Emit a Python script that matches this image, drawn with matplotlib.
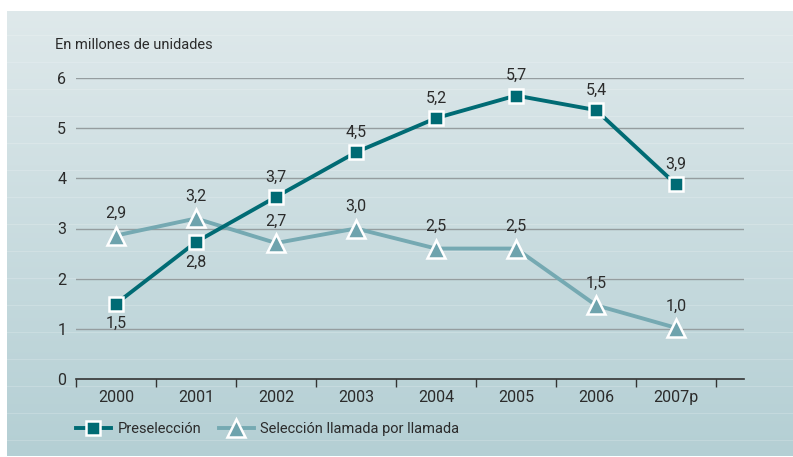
import numpy as np
from matplotlib import pyplot as plt
from matplotlib.colors import LinearSegmentedColormap
from matplotlib.lines import Line2D

years = ['2000', '2001', '2002', '2003', '2004', '2005', '2006', '2007p']

# Preselección (plotted position and printed label)
pre_vals = [1.5, 2.73, 3.63, 4.52, 5.2, 5.65, 5.36, 3.88]
pre_labels = ['1,5', '2,8', '3,7', '4,5', '5,2', '5,7', '5,4', '3,9']
pre_below = [True, True, False, False, False, False, False, False]

# Selección llamada por llamada
sel_vals = [2.86, 3.2, 2.71, 3.0, 2.6, 2.6, 1.47, 1.02]
sel_labels = ['2,9', '3,2', '2,7', '3,0', '2,5', '2,5', '1,5', '1,0']

plt.rcParams['font.family'] = ['Roboto', 'DejaVu Sans']

c_pre = '#006b74'
c_sel = '#75a9b2'
c_sel_fill = '#6ea3ad'
txt = '#2b2b2b'

W, H = 793, 457
fig = plt.figure(figsize=(W / 100, H / 100), dpi=100)

# background panel with gradient and faint stripes
bg = fig.add_axes([7 / W, 0.5 / H, (W - 7) / W, (H - 11.5) / H])
bg.set_axis_off()
cmap = LinearSegmentedColormap.from_list('bg', ['#dfe9eb', '#b4cfd4'])
grad = np.linspace(0, 1, 256).reshape(-1, 1)
bg.imshow(grad, aspect='auto', cmap=cmap, extent=[0, 1, 0, 1], origin='upper')
for yy in range(35, 457, 27):
    yf = 1 - (yy - 11) / (H - 11.5)
    bg.axhline(yf, color='white', lw=0.8, alpha=0.18)
bg.set_xlim(0, 1)
bg.set_ylim(0, 1)

x0, x1 = 76, 744
y0, y1 = 379, 78
ax = fig.add_axes([x0 / W, (H - y0) / H, (x1 - x0) / W, (y0 - y1) / H])
ax.patch.set_alpha(0)

x = np.arange(len(years))
ax.set_xlim(-0.5, 7.85)
ax.set_ylim(0, 6)

for v in range(1, 7):
    ax.axhline(v, color='#959d9f', lw=1.0, zorder=1)

ax.plot(x, sel_vals, color=c_sel, lw=2.8, marker='^', markersize=13,
        markerfacecolor=c_sel_fill, markeredgecolor='white', markeredgewidth=1.8,
        zorder=3, clip_on=False)
ax.plot(x, pre_vals, color=c_pre, lw=2.8, marker='s', markersize=10.5,
        markerfacecolor=c_pre, markeredgecolor='white', markeredgewidth=1.8,
        zorder=4, clip_on=False)

fs = 11.5
for i in range(len(years)):
    off = -20 if pre_below[i] else 20
    ax.annotate(pre_labels[i], (x[i], pre_vals[i]), xytext=(0, off),
                textcoords='offset pixels', ha='center', va='center',
                fontsize=fs, color=txt, zorder=5)
    ax.annotate(sel_labels[i], (x[i], sel_vals[i]), xytext=(0, 22),
                textcoords='offset pixels', ha='center', va='center',
                fontsize=fs, color=txt, zorder=5)

for s in ['top', 'right', 'left']:
    ax.spines[s].set_visible(False)
ax.spines['bottom'].set_color('#333333')
ax.spines['bottom'].set_linewidth(1.2)

ax.set_xticks(np.arange(-0.5, 8, 1))
ax.set_xticklabels([])
ax.set_xticks(x, minor=True)
ax.set_xticklabels(years, minor=True)
ax.tick_params(axis='x', which='major', direction='out', length=6, width=1,
               color='#333333')
ax.tick_params(axis='x', which='minor', length=0, pad=8, labelsize=fs,
               labelcolor=txt)
ax.set_yticks(range(0, 7))
ax.tick_params(axis='y', length=0, pad=7, labelsize=fs, labelcolor=txt)

fig.text(55 / W, 1 - 45 / H, 'En millones de unidades', fontsize=10.5,
         color=txt, ha='left', va='center')

handles = [
    Line2D([], [], color=c_pre, lw=2.8, marker='s', markersize=10.5,
           markerfacecolor=c_pre, markeredgecolor='white', markeredgewidth=1.8),
    Line2D([], [], color=c_sel, lw=2.8, marker='^', markersize=13,
           markerfacecolor=c_sel_fill, markeredgecolor='white', markeredgewidth=1.8),
]
fig.legend(handles, ['Preselección', 'Selección llamada por llamada'],
           loc='center left', bbox_to_anchor=(70 / W, 1 - 429 / H), ncol=2,
           frameon=False, fontsize=10.5, handlelength=2.4, columnspacing=1.2,
           handletextpad=0.45, labelcolor=txt, borderaxespad=0)

fig.savefig('out.png', dpi=100)
